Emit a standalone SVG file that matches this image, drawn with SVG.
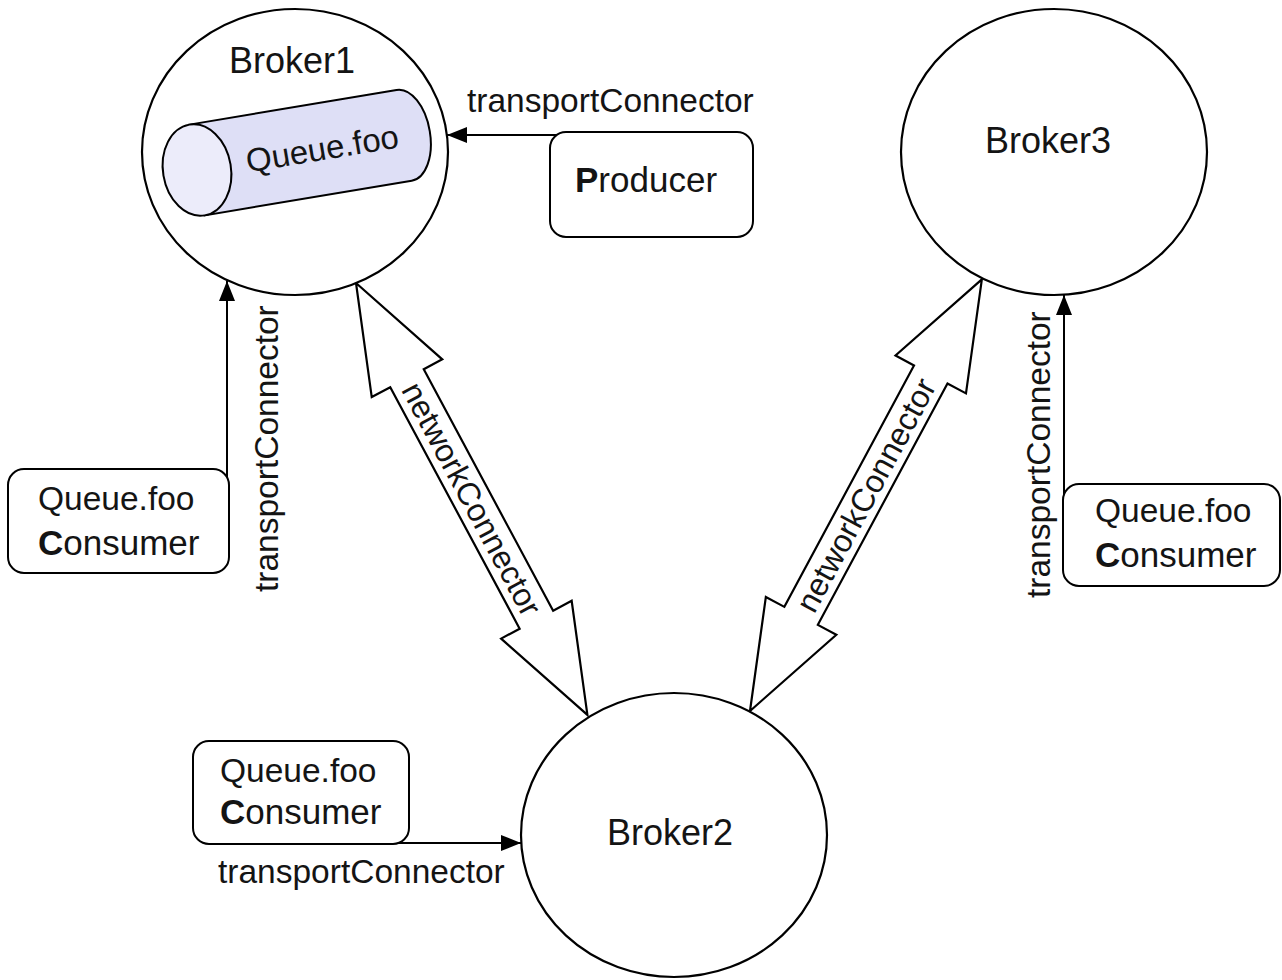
<svg xmlns="http://www.w3.org/2000/svg" width="1282" height="980" viewBox="0 0 1282 980">
<style>
text{font-family:"Liberation Sans",Arial,Helvetica,sans-serif;fill:#141414}
.broker{fill:#fff;stroke:#000;stroke-width:2.2}
.box{fill:#fff;stroke:#000;stroke-width:2}
.bl{font-size:36px;text-anchor:middle}
.t{font-size:33.5px}
.c{font-size:35px}
.b{font-weight:bold}
.line{fill:none;stroke:#000;stroke-width:2}
.big{fill:#fff;stroke:#000;stroke-width:2.2;stroke-linejoin:miter}
.nc{font-size:32px;text-anchor:middle}
</style>
<defs>
<marker id="ah" viewBox="0 0 20 16" refX="20" refY="8" markerWidth="20" markerHeight="16" markerUnits="userSpaceOnUse" orient="auto">
<path d="M0,0 L20,8 L0,16 z" fill="#000"/>
</marker>
<polygon id="dbl" points="0,0 108,-40 108,-19 382,-19 382,-40 490,0 382,40 382,19 108,19 108,40"/>
</defs>
<rect width="1282" height="980" fill="#fff"/>

<g id="connectors">
<line class="line" x1="560" y1="135" x2="447" y2="135" marker-end="url(#ah)"/>
<line class="line" x1="227" y1="500" x2="227" y2="281" marker-end="url(#ah)"/>
<line class="line" x1="1064" y1="510" x2="1064" y2="295" marker-end="url(#ah)"/>
<line class="line" x1="390" y1="843" x2="521" y2="843" marker-end="url(#ah)"/>
<g transform="translate(356,283) rotate(61.82)">
<use href="#dbl" class="big"/>
<text class="nc" x="245" y="11">networkConnector</text>
</g>
<g transform="translate(750,711) rotate(-61.76)">
<use href="#dbl" class="big"/>
<text class="nc" x="245" y="11">networkConnector</text>
</g>
<text class="t" x="467" y="112">transportConnector</text>
<text class="t" transform="translate(278,592) rotate(-90)">transportConnector</text>
<text class="t" transform="translate(1050,598) rotate(-90)">transportConnector</text>
<text class="t" x="218" y="883">transportConnector</text>
</g>

<g id="broker1">
<ellipse class="broker" cx="295" cy="152" rx="153" ry="143"/>
<text class="bl" x="292" y="73">Broker1</text>
<g id="queue" transform="translate(197,170) rotate(-9.5)">
<path d="M0,-46 L210,-46 A26,46 0 0 1 210,46 L0,46 z" fill="#dedff6" stroke="#000" stroke-width="2"/>
<ellipse cx="0" cy="0" rx="34" ry="46" fill="#ececfa" stroke="#000" stroke-width="2"/>
<text class="t" x="127" y="11" style="text-anchor:middle;font-size:33px">Queue.foo</text>
</g>
</g>

<g id="broker3">
<ellipse class="broker" cx="1054" cy="152" rx="153" ry="143"/>
<text class="bl" x="1048" y="153">Broker3</text>
</g>

<g id="broker2">
<ellipse class="broker" cx="674" cy="835" rx="153" ry="142"/>
<text class="bl" x="670" y="845">Broker2</text>
</g>

<g id="producer">
<rect class="box" x="550" y="132" width="203" height="105" rx="16"/>
<text class="c" x="575" y="192"><tspan class="b">P</tspan>roducer</text>
</g>

<g id="consumer-left">
<rect class="box" x="8" y="469" width="221" height="104" rx="16"/>
<text class="t" x="38" y="510">Queue.foo</text>
<text class="c" x="38" y="555"><tspan class="b">C</tspan>onsumer</text>
</g>

<g id="consumer-bottom">
<rect class="box" x="193" y="741" width="216" height="103" rx="16"/>
<text class="t" x="220" y="782">Queue.foo</text>
<text class="c" x="220" y="824"><tspan class="b">C</tspan>onsumer</text>
</g>

<g id="consumer-right">
<rect class="box" x="1063" y="484" width="217" height="102" rx="16"/>
<text class="t" x="1095" y="522">Queue.foo</text>
<text class="c" x="1095" y="567"><tspan class="b">C</tspan>onsumer</text>
</g>
</svg>
